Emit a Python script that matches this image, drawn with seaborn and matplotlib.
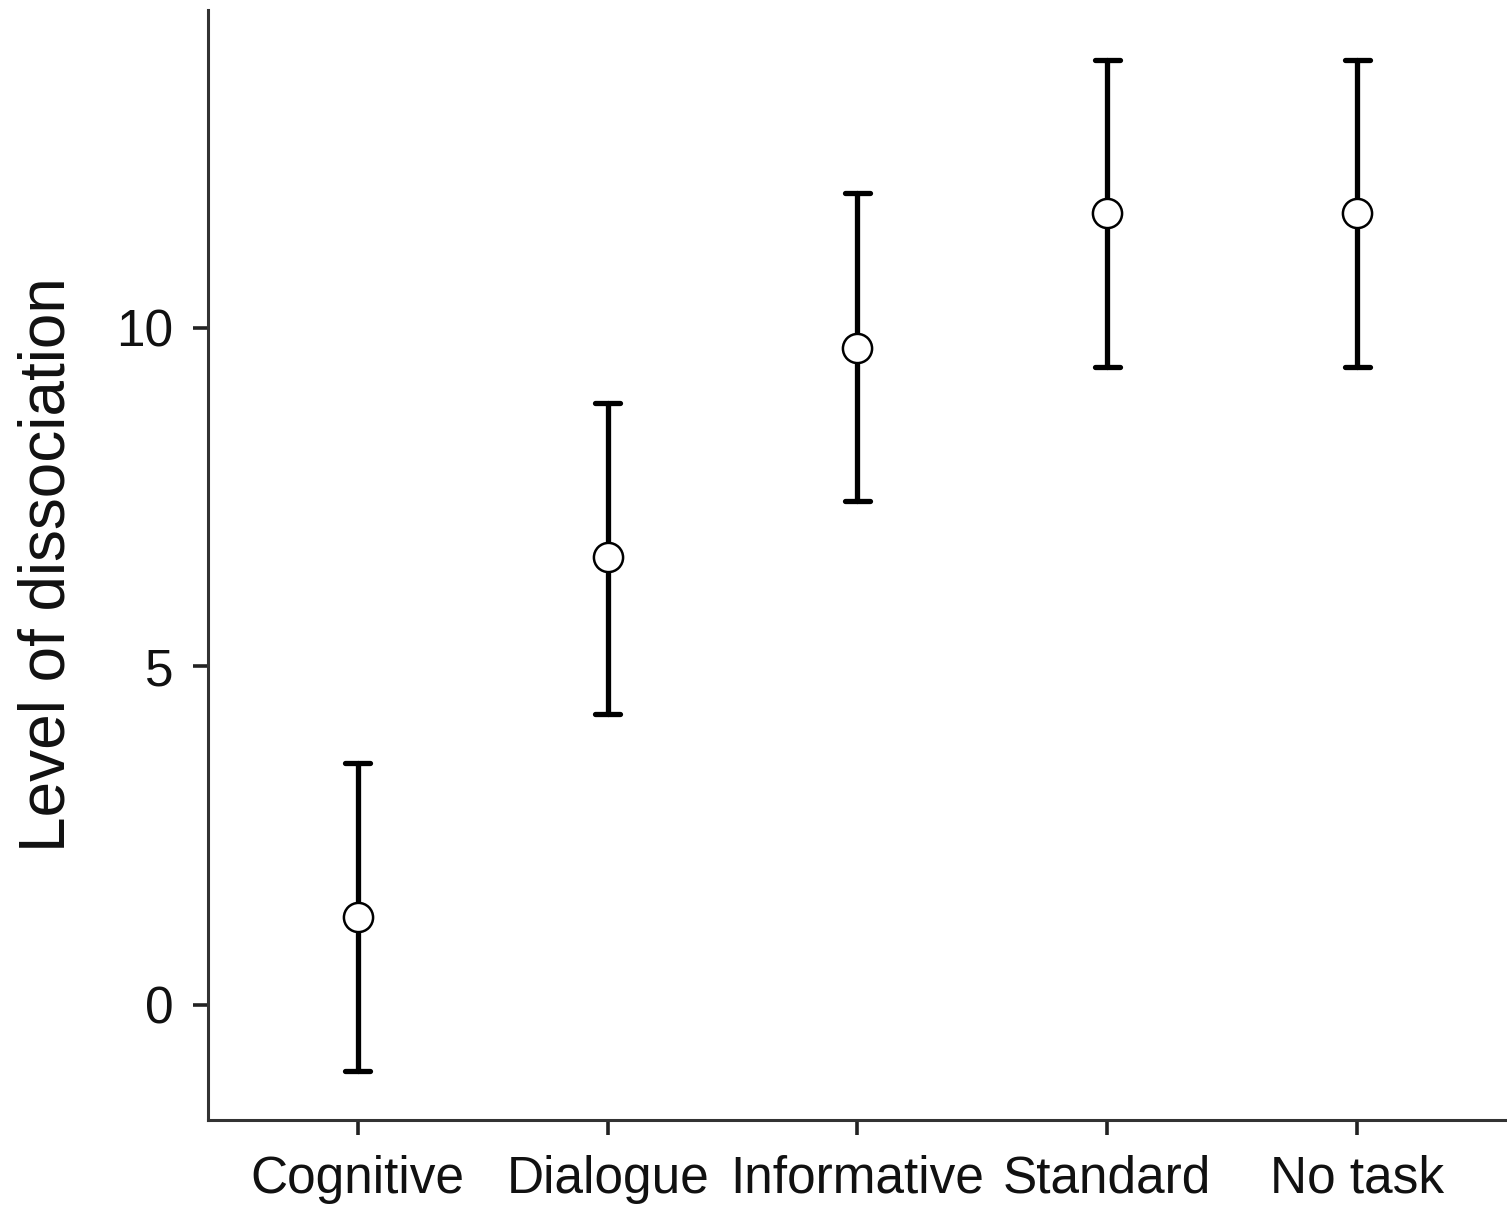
import matplotlib
matplotlib.use("Agg")
import matplotlib.pyplot as plt
import seaborn as sns
import pandas as pd

categories = ["Cognitive", "Dialogue", "Informative", "Standard", "No task"]
means = [1.30, 6.62, 9.70, 11.70, 11.70]
lower = [-0.97, 4.30, 7.44, 9.42, 9.42]
upper = [3.57, 8.89, 11.99, 13.96, 13.96]
yticks = [0, 5, 10]

rows = []
for c, lo, m, hi in zip(categories, lower, means, upper):
    for v in (lo, m, hi):
        rows.append({"condition": c, "value": v})
df = pd.DataFrame(rows)

sns.set_theme(style="ticks")
plt.rcParams['font.family'] = ['Liberation Sans', 'DejaVu Sans']

fig = plt.figure(figsize=(15.07, 12.16), dpi=100)
ax = fig.add_axes([0.138, 0.079, 0.862, 0.913])

sns.pointplot(data=df, x="condition", y="value", order=categories,
              estimator="median", errorbar=("pi", 100),
              color="black", linestyle="none", capsize=0.1,
              err_kws={"linewidth": 3.8, "zorder": 2},
              marker="o", markersize=21, markerfacecolor="white",
              markeredgecolor="black", markeredgewidth=1.8, ax=ax)
for ln in ax.lines:
    if ln.get_marker() == "o":
        ln.set_zorder(5)

ax.set_xlim(-0.6, 4.6)
ax.set_ylim(-1.7, 14.7)
ax.set_yticks(yticks)
ax.set_xlabel("")
ax.set_ylabel("Level of dissociation", fontsize=46, labelpad=28, color="#111111")
ax.tick_params(axis="both", labelsize=37, length=11, width=2.6, colors="#222222",
               labelcolor="#111111", pad=14)
for side in ["left", "bottom"]:
    ax.spines[side].set_linewidth(2.2)
    ax.spines[side].set_color("#333333")
sns.despine(ax=ax)

fig.savefig("out.png", dpi=100)
